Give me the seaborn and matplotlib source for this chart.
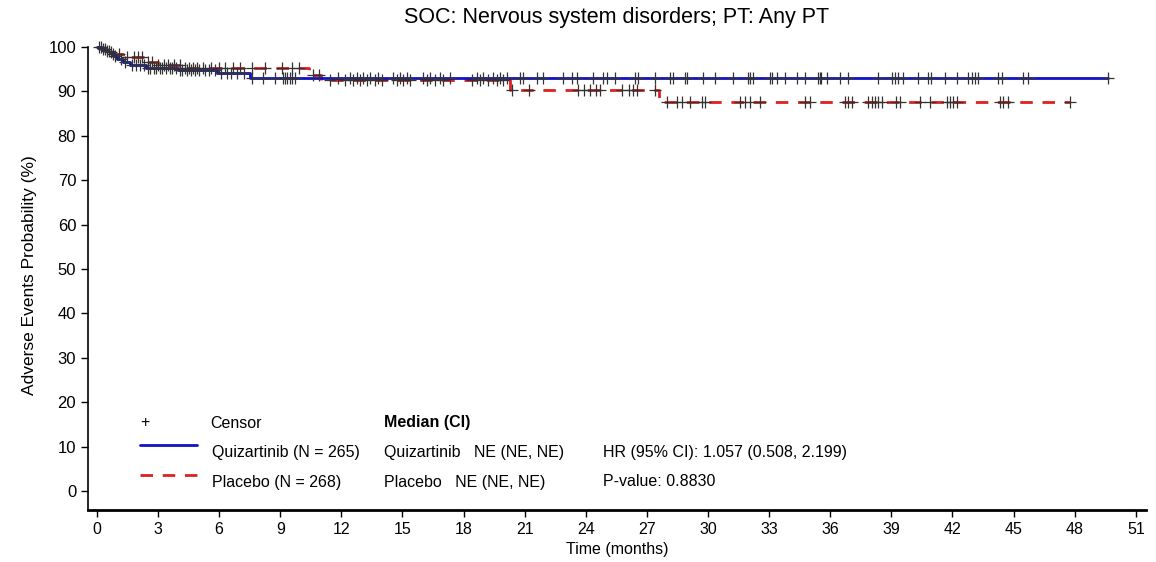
import numpy as np
import pandas as pd
import matplotlib
matplotlib.use('Agg')
import matplotlib.pyplot as plt
from matplotlib.lines import Line2D
import seaborn as sns

# Kaplan-Meier style step data
quiz_event_times = [0.2, 0.4, 0.6, 0.8, 1.0, 1.3, 1.6, 2.4, 4.0, 5.9, 7.5]
quiz_surv = [99.6, 99.2, 98.8, 98.1, 97.3, 96.6, 96.0, 95.3, 94.9, 94.1, 93.0]
quiz_censor = [0.1, 0.3, 0.5, 0.7, 0.9, 1.2, 1.4, 1.7, 1.9, 2.1, 2.3, 2.5, 2.6, 2.8, 2.9,
               3.1, 3.2, 3.4, 3.6, 3.7, 3.9, 4.1, 4.2, 4.4, 4.6, 4.8, 5.0, 5.3, 5.5, 5.8,
               6.1, 6.4, 6.6, 6.9, 7.2,
               7.59, 8.17, 8.74, 9.15, 9.23, 9.31, 9.47, 9.6, 9.72,
               11.85, 12.42, 12.75, 13.07, 13.4, 13.81, 14.55, 14.87, 15.2, 16.02,
               16.35, 16.84, 17.33, 18.64, 18.97, 19.46, 19.78, 20.11,
               20.77, 20.93, 21.59, 21.91, 22.89, 23.3, 23.55, 24.36, 24.86, 25.02,
               25.43, 26.41, 26.57, 27.39, 28.13, 28.29, 28.87, 28.95,
               29.76, 30.34, 31.24, 31.97, 32.06, 32.22, 33.04, 33.12, 33.37, 33.77,
               34.35, 34.76, 35.41, 35.49, 35.57, 35.82, 36.47, 36.88, 38.35, 39.01,
               39.17, 39.33, 39.58, 40.32, 40.81, 40.97, 41.63, 42.2, 42.77, 42.94,
               43.1, 43.26, 44.24, 44.41, 45.47, 45.71, 49.65]

plac_event_times = [0.3, 0.5, 0.8, 1.3, 2.4, 3.0, 4.2, 10.4, 11.0, 20.3, 27.6]
plac_surv = [99.6, 99.2, 98.5, 97.8, 96.7, 96.0, 95.2, 93.8, 92.7, 90.3, 87.7]
plac_censor = [0.2, 0.4, 0.6, 0.8, 1.1, 1.5, 1.8, 2.0, 2.2, 2.5, 2.7, 3.0, 3.3, 3.5, 3.8,
               4.1, 4.3, 4.5, 4.7, 4.9, 5.2, 5.6, 6.0, 6.3, 6.7, 7.0,
               7.6, 8.25, 9.1, 9.6, 9.9, 10.6, 10.9,
               11.44, 12.17, 12.58, 12.91, 13.24, 13.65, 13.98, 14.71, 15.04, 15.36,
               16.18, 16.59, 17.0, 18.39, 18.8, 19.21, 19.62, 19.95,
               20.4, 21.2, 23.6, 23.9, 24.2, 24.5, 24.7, 25.8, 26.1, 26.3, 26.5, 27.4,
               28.0, 28.5, 28.7, 29.11, 29.69, 29.85, 31.57, 31.81, 32.06, 32.55,
               34.76, 35.0, 36.72, 36.88, 37.05, 37.86, 38.03, 38.19, 38.35, 38.52,
               39.25, 39.42, 40.4, 40.89, 41.71, 41.87, 42.04, 42.2, 44.33, 44.49,
               44.74, 47.77]

x_ticks = list(range(0, 52, 3))
y_ticks = list(range(0, 101, 10))

title = 'SOC: Nervous system disorders; PT: Any PT'
arm_labels = ['Quizartinib (N = 265)', 'Placebo (N = 268)']
median_labels = ['Quizartinib   NE (NE, NE)', 'Placebo   NE (NE, NE)']
stat_labels = ['HR (95% CI): 1.057 (0.508, 2.199)', 'P-value: 0.8830']

blue = '#1010c8'
red = '#e02020'


def step_frame(times, surv, censor):
    t = [0.0] + list(times) + [max(censor)]
    s = [100.0] + list(surv) + [surv[-1]]
    return pd.DataFrame({'time': t, 'surv': s})


def censor_frame(times, surv, censor):
    idx = np.searchsorted(np.array(times), np.array(censor), side='right')
    levels = np.concatenate([[100.0], surv])[idx]
    return pd.DataFrame({'time': censor, 'surv': levels})


sns.set_style('ticks')
plt.rcParams['font.family'] = ['Liberation Sans', 'DejaVu Sans']
plt.rcParams.update({'text.color': 'black', 'axes.labelcolor': 'black',
                     'xtick.color': 'black', 'ytick.color': 'black',
                     'axes.edgecolor': 'black'})

fig = plt.figure(figsize=(11.56, 5.62), dpi=100)
ax = fig.add_axes([0.0761, 0.0925, 0.9152, 0.8363])

q_step = step_frame(quiz_event_times, quiz_surv, quiz_censor)
p_step = step_frame(plac_event_times, plac_surv, plac_censor)

sns.lineplot(data=q_step, x='time', y='surv', drawstyle='steps-post', estimator=None,
             sort=False, color=blue, linewidth=2.0, ax=ax, zorder=3)
sns.lineplot(data=p_step, x='time', y='surv', drawstyle='steps-post', estimator=None,
             sort=False, color=red, linewidth=2.0, dashes=False, ax=ax, zorder=2)
ax.lines[-1].set_dashes((4.5, 3.5))

sns.scatterplot(data=censor_frame(quiz_event_times, quiz_surv, quiz_censor), x='time', y='surv',
                marker='+', s=80, color='#333333', linewidth=0.9, ax=ax, zorder=4)
sns.scatterplot(data=censor_frame(plac_event_times, plac_surv, plac_censor), x='time', y='surv',
                marker='+', s=80, color='#333333', linewidth=0.9, ax=ax, zorder=4)

ax.set_xlim(-0.44, 51.5)
ax.set_ylim(-4.3, 101.6)
ax.set_xticks(x_ticks)
ax.set_yticks(y_ticks)
ax.tick_params(axis='y', labelsize=12, length=5, width=1, direction='out')
ax.tick_params(axis='x', labelsize=11.5, length=5, width=1, direction='out')
ax.spines['top'].set_visible(False)
ax.spines['right'].set_visible(False)
ax.spines['left'].set_bounds(-4.3, 100)
ax.spines['left'].set_linewidth(1.2)
ax.spines['bottom'].set_linewidth(2.0)
ax.set_xlabel('Time (months)', fontsize=11.5, labelpad=4)
ax.set_ylabel('Adverse Events Probability (%)', fontsize=12.5, labelpad=8)
ax.set_title(title, fontsize=15.5, pad=12)

# legend / summary block inside the plot
W, H = 1156, 562
fx = lambda px: px / W
fy = lambda py: 1 - py / H
fs = 11.5
fig.text(fx(140), fy(423), '+', fontsize=fs, va='center')
fig.text(fx(210), fy(423), 'Censor', fontsize=fs, va='center')
fig.text(fx(384), fy(423), 'Median (CI)', fontsize=fs, va='center', fontweight='bold')
fig.add_artist(Line2D([fx(140), fx(197)], [fy(445), fy(445)], color=blue, linewidth=2.0))
fig.add_artist(Line2D([fx(140), fx(197)], [fy(475), fy(475)], color=red, linewidth=2.0,
                      dashes=(4.5, 3.5)))
for row, py in enumerate([453, 482]):
    fig.text(fx(212), fy(py), arm_labels[row], fontsize=fs, va='center')
    fig.text(fx(384), fy(py), median_labels[row], fontsize=fs, va='center')
    fig.text(fx(603), fy(py), stat_labels[row], fontsize=fs, va='center')

fig.savefig('out.png', dpi=100)
